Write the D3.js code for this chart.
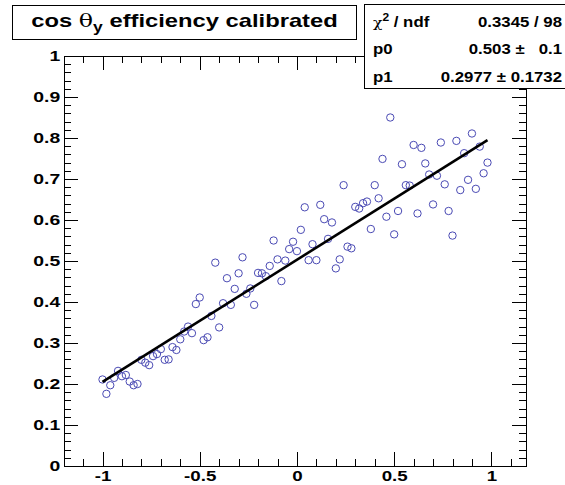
<!DOCTYPE html>
<html>
<head>
<meta charset="utf-8">
<script src="https://cdn.jsdelivr.net/npm/d3@7"></script>
<style>
  html, body { margin: 0; padding: 0; background: #fff; }
  svg { display: block; font-family: "Liberation Sans", Arial, sans-serif; }
</style>
</head>
<body>
<svg id="viewer"></svg>
<script>
// values
const xValues = [
  -1.00, -0.98, -0.96, -0.94, -0.92, -0.90, -0.88, -0.86, -0.84, -0.82,
  -0.80, -0.78, -0.76, -0.74, -0.72, -0.70, -0.68, -0.66, -0.64, -0.62,
  -0.60, -0.58, -0.56, -0.54, -0.52, -0.50, -0.48, -0.46, -0.44, -0.42,
  -0.40, -0.38, -0.36, -0.34, -0.32, -0.30, -0.28, -0.26, -0.24, -0.22,
  -0.20, -0.18, -0.16, -0.14, -0.12, -0.10, -0.08, -0.06, -0.04, -0.02,
   0.00,  0.02,  0.04,  0.06,  0.08,  0.10,  0.12,  0.14,  0.16,  0.18,
   0.20,  0.22,  0.24,  0.26,  0.28,  0.30,  0.32,  0.34,  0.36,  0.38,
   0.40,  0.42,  0.44,  0.46,  0.48,  0.50,  0.52,  0.54,  0.56,  0.58,
   0.60,  0.62,  0.64,  0.66,  0.68,  0.70,  0.72,  0.74,  0.76,  0.78,
   0.80,  0.82,  0.84,  0.86,  0.88,  0.90,  0.92,  0.94,  0.96,  0.98
];
const yValues = [
  0.211, 0.176, 0.197, 0.215, 0.232, 0.219, 0.222, 0.206, 0.197, 0.200,
  0.259, 0.252, 0.246, 0.268, 0.273, 0.285, 0.259, 0.260, 0.290, 0.283,
  0.309, 0.328, 0.340, 0.324, 0.395, 0.411, 0.307, 0.314, 0.366, 0.496,
  0.338, 0.397, 0.458, 0.393, 0.432, 0.470, 0.509, 0.420, 0.433, 0.393,
  0.471, 0.470, 0.463, 0.488, 0.550, 0.504, 0.451, 0.501, 0.529, 0.547,
  0.524, 0.576, 0.631, 0.502, 0.541, 0.502, 0.637, 0.602, 0.554, 0.594,
  0.482, 0.504, 0.685, 0.535, 0.531, 0.632, 0.628, 0.641, 0.645, 0.578,
  0.685, 0.653, 0.749, 0.608, 0.850, 0.565, 0.622, 0.736, 0.685, 0.684,
  0.783, 0.616, 0.776, 0.738, 0.711, 0.638, 0.708, 0.789, 0.687, 0.622,
  0.562, 0.793, 0.673, 0.763, 0.698, 0.811, 0.676, 0.779, 0.714, 0.740
];

// fit result  p0 + p1*x
const fitP0 = 0.503;
const fitP1 = 0.2977;

const xTicks = [-1, -0.5, 0, 0.5, 1];
const xTickLabels = ["-1", "-0.5", "0", "0.5", "1"];
const yTicks = [0, 0.1, 0.2, 0.3, 0.4, 0.5, 0.6, 0.7, 0.8, 0.9, 1];
const yTickLabels = ["0", "0.1", "0.2", "0.3", "0.4", "0.5", "0.6", "0.7", "0.8", "0.9", "1"];

const statLabels = ["p0", "p1"];
const statValues = ["0.3345 / 98", "0.503 \u00b1   0.1", "0.2977 \u00b1 0.1732"];

const geo = { width: 565, height: 485 };
const frame = { left: 64, right: 526, top: 56, bottom: 466 };
// the picture is a bit wider than tall, text is stretched sideways
const stretch = 1.25;

const svg = d3.select("#viewer")
  .attr("width", geo.width)
  .attr("height", geo.height);

svg.append("rect")
  .attr("width", geo.width)
  .attr("height", geo.height)
  .attr("fill", "#fff");

const x = d3.scaleLinear().domain([-1.198, 1.178]).range([frame.left, frame.right]);
const y = d3.scaleLinear().domain([0, 1]).range([frame.bottom, frame.top]);

const minorX = d3.range(-11, 12).map(d => d / 10);
const minorY = d3.range(0, 51).map(d => d / 50);

// tick marks, all pointing into the frame
const drawAxis = function (axis, tx, ty) {
  const g = svg.append("g")
    .attr("transform", `translate(${tx},${ty})`)
    .call(axis);
  g.select(".domain").remove();
  g.selectAll("line").attr("stroke", "#000").attr("stroke-width", 1).attr("shape-rendering", "crispEdges");
  return g;
}

drawAxis(d3.axisLeft(y).tickValues(minorY).tickSize(-7).tickFormat(""), frame.left, 0);
drawAxis(d3.axisRight(y).tickValues(minorY).tickSize(-7).tickFormat(""), frame.right, 0);
drawAxis(d3.axisRight(y).tickValues(yTicks).tickSize(-14).tickFormat(""), frame.right, 0);
drawAxis(d3.axisBottom(x).tickValues(minorX).tickSize(-7).tickFormat(""), 0, frame.bottom);
drawAxis(d3.axisTop(x).tickValues(minorX).tickSize(-7).tickFormat(""), 0, frame.top);
drawAxis(d3.axisTop(x).tickValues(xTicks).tickSize(-14).tickFormat(""), 0, frame.top);

const yAxis = drawAxis(
  d3.axisLeft(y).tickValues(yTicks).tickSize(-14).tickPadding(3)
    .tickFormat((d, i) => yTickLabels[i]),
  frame.left, 0);
yAxis.selectAll("text")
  .attr("font-family", "Liberation Sans, Arial, sans-serif")
  .attr("font-size", 15.5)
  .attr("font-weight", "bold")
  .attr("fill", "#000")
  .attr("transform", `scale(${stretch},1)`);

const xAxis = drawAxis(
  d3.axisBottom(x).tickValues(xTicks).tickSize(-14).tickPadding(4)
    .tickFormat((d, i) => xTickLabels[i]),
  0, frame.bottom);
xAxis.selectAll("text")
  .attr("font-family", "Liberation Sans, Arial, sans-serif")
  .attr("font-size", 15)
  .attr("font-weight", "bold")
  .attr("fill", "#000")
  .attr("transform", `scale(${stretch},1)`);

// frame
svg.append("rect")
  .attr("x", frame.left)
  .attr("y", frame.top)
  .attr("width", frame.right - frame.left)
  .attr("height", frame.bottom - frame.top)
  .attr("fill", "none")
  .attr("stroke", "#000")
  .attr("stroke-width", 1)
  .attr("shape-rendering", "crispEdges");

// markers
const points = xValues.map((d, i) => ({ x: d, y: yValues[i] }));
svg.append("g")
  .selectAll("circle")
  .data(points)
  .enter()
  .append("circle")
  .attr("cx", d => x(d.x))
  .attr("cy", d => y(d.y))
  .attr("r", 3.7)
  .attr("fill", "none")
  .attr("stroke", "#4a4ab4")
  .attr("stroke-width", 1);

// fit line
const fitRange = d3.extent(xValues);
const line = d3.line()
  .x(d => x(d))
  .y(d => y(fitP0 + fitP1 * d));
svg.append("path")
  .attr("d", line(fitRange))
  .attr("fill", "none")
  .attr("stroke", "#000")
  .attr("stroke-width", 2.6);

// title box
svg.append("rect")
  .attr("x", 12.5).attr("y", 5.5)
  .attr("width", 344).attr("height", 34)
  .attr("fill", "#fff")
  .attr("stroke", "#000")
  .attr("stroke-width", 1);

const title = svg.append("text")
  .attr("transform", `translate(184.5,27) scale(${stretch},1)`)
  .attr("text-anchor", "middle")
  .attr("font-size", 19)
  .attr("font-weight", "bold")
  .attr("fill", "#000");
title.append("tspan").text("cos ");
title.append("tspan")
  .attr("font-weight", "normal")
  .attr("font-family", "DejaVu Serif, serif")
  .text("\u03b8");
title.append("tspan")
  .attr("font-size", 14)
  .attr("dy", 5)
  .text("y");
title.append("tspan")
  .attr("dy", -5)
  .text(" efficiency calibrated");

// stats box
svg.append("rect")
  .attr("x", 364.5).attr("y", 4.5)
  .attr("width", 210).attr("height", 84)
  .attr("fill", "#fff")
  .attr("stroke", "#000")
  .attr("stroke-width", 1);

const rowY = [27, 54, 82];

const chi = svg.append("text")
  .attr("transform", `translate(373,${rowY[0]}) scale(1.2,1)`)
  .attr("font-size", 14)
  .attr("font-weight", "bold");
chi.append("tspan")
  .attr("font-weight", "normal")
  .attr("font-family", "DejaVu Serif, serif")
  .attr("font-size", 13)
  .text("\u03c7");
chi.append("tspan")
  .attr("font-size", 10)
  .attr("dy", -6)
  .text("2");
chi.append("tspan")
  .attr("dy", 6)
  .text(" / ndf");

svg.append("g")
  .selectAll("text")
  .data(statLabels)
  .enter()
  .append("text")
  .attr("transform", (d, i) => `translate(373,${rowY[i + 1]}) scale(1.2,1)`)
  .attr("font-size", 14)
  .attr("font-weight", "bold")
  .text(d => d);

svg.append("g")
  .selectAll("text")
  .data(statValues)
  .enter()
  .append("text")
  .attr("transform", (d, i) => `translate(562,${rowY[i]}) scale(1.2,1)`)
  .attr("text-anchor", "end")
  .attr("font-size", 14)
  .attr("font-weight", "bold")
  .style("white-space", "pre")
  .text(d => d);
</script>
</body>
</html>
